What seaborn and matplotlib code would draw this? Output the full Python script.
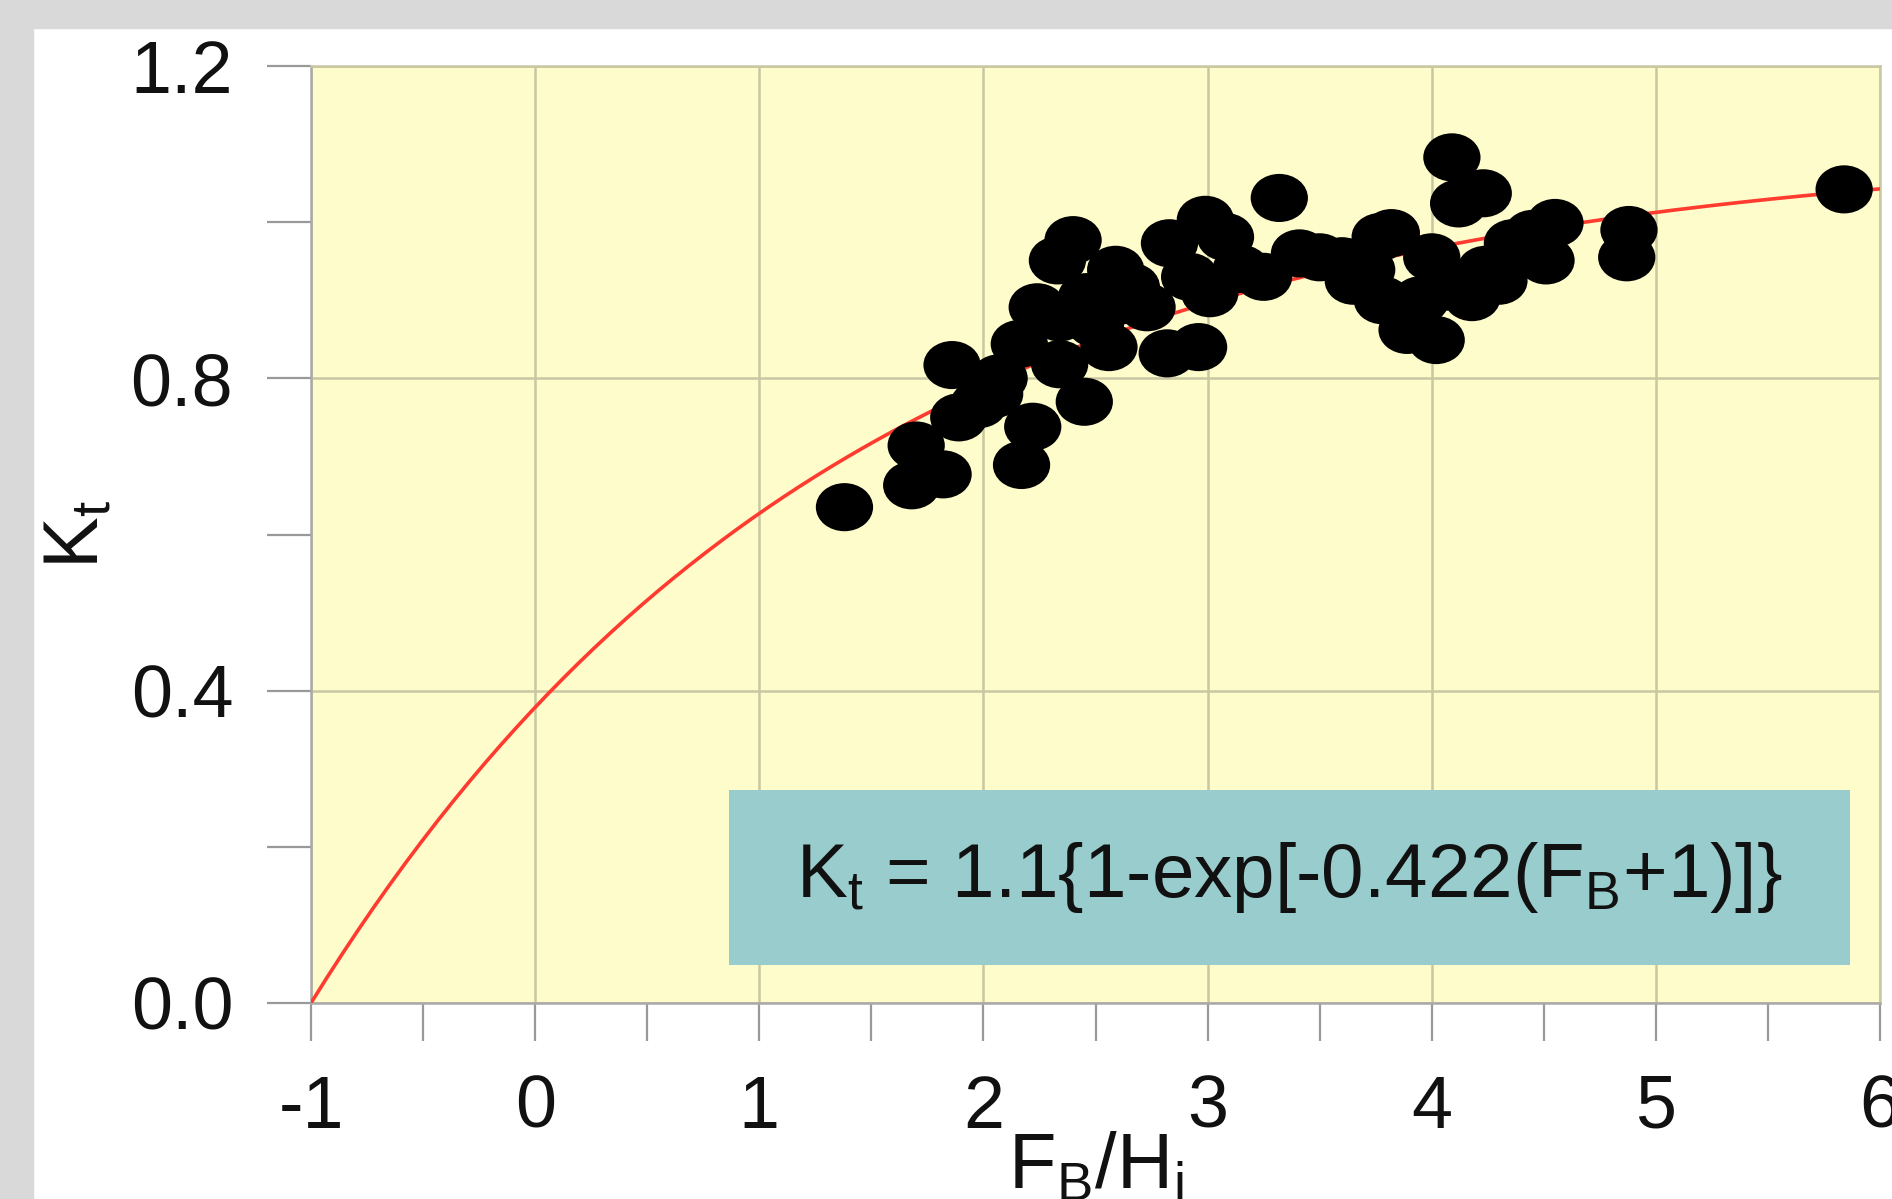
import numpy as np
import pandas as pd
import matplotlib
matplotlib.use("Agg")
import matplotlib.pyplot as plt
import seaborn as sns
from matplotlib.path import Path
from matplotlib.transforms import Affine2D
from matplotlib.patches import Rectangle
from matplotlib.ticker import MultipleLocator, FixedLocator

# measured points (F_B/H_i, K_t)
fb_hi = [1.38, 1.68, 1.82, 1.70, 1.86, 1.89, 1.98, 2.07, 2.17, 2.22,
         2.16, 2.24, 2.34, 2.34, 2.45, 2.46, 2.33, 2.40, 2.56, 2.59,
         2.66, 2.73, 2.82, 2.96, 2.83, 2.99, 3.01, 3.08, 3.15, 3.25,
         3.32, 3.41, 3.50, 3.60, 3.71, 3.77, 3.82, 3.78, 3.89, 4.00,
         4.02, 4.05, 4.09, 4.12, 4.18, 4.23, 4.24, 4.36, 4.51, 4.55,
         4.87, 4.88, 5.84, 3.95, 4.30, 3.65, 2.92, 2.62, 4.45, 2.50,
         2.05]
kt = [0.635, 0.663, 0.677, 0.714, 0.817, 0.750, 0.767, 0.800, 0.689, 0.738,
      0.844, 0.891, 0.818, 0.878, 0.770, 0.904, 0.951, 0.977, 0.840, 0.939,
      0.917, 0.891, 0.832, 0.840, 0.973, 1.003, 0.909, 0.981, 0.940, 0.930,
      1.031, 0.960, 0.955, 0.950, 0.939, 0.981, 0.986, 0.900, 0.862, 0.955,
      0.849, 0.917, 1.083, 1.024, 0.904, 1.037, 0.939, 0.973, 0.951, 0.999,
      0.955, 0.990, 1.042, 0.900, 0.925, 0.925, 0.930, 0.900, 0.985, 0.870,
      0.780]

# fitted curve  K_t = a{1-exp[-b(F_B+1)]}
fit_a = 1.1
fit_b = 0.422
fit_x = np.linspace(-1, 6, 200)

x_ticks = [-1, 0, 1, 2, 3, 4, 5, 6]
y_ticks = [0.0, 0.4, 0.8, 1.2]
y_minor = [0.2, 0.6, 1.0]

df = pd.DataFrame({"FB": fb_hi, "Kt": kt})
fit_df = pd.DataFrame({"FB": fit_x, "Kt": fit_a * (1 - np.exp(-fit_b * (fit_x + 1)))})

sns.set_theme(style="white")
plt.rcParams["font.family"] = ["Liberation Sans", "DejaVu Sans"]
plt.rcParams["mathtext.fontset"] = "custom"
plt.rcParams["mathtext.rm"] = "Liberation Sans"
plt.rcParams["mathtext.it"] = "Liberation Sans"

fig = plt.figure(figsize=(18.92, 11.99), dpi=100)
fig.patch.set_facecolor("white")
# grey screenshot frame
fig.patches.append(Rectangle((0, 0), 33 / 1892, 1, transform=fig.transFigure,
                             color="#d9d9d9", zorder=0))
fig.patches.append(Rectangle((0, 1 - 28 / 1199), 1, 28 / 1199, transform=fig.transFigure,
                             color="#d9d9d9", zorder=0))

ax = fig.add_axes([311 / 1892, 1 - 1003 / 1199, 1569 / 1892, 937 / 1199])
ax.set_facecolor("#fffccb")

ell = Affine2D().scale(1.0, 0.84).transform_path(Path.unit_circle())
sns.lineplot(data=fit_df, x="FB", y="Kt", ax=ax, color="#ff3b30", linewidth=2.6, zorder=3)
sns.scatterplot(data=df, x="FB", y="Kt", ax=ax, marker=ell, s=1700,
                color="black", edgecolor="none", linewidth=0, zorder=4)

ax.set_xlim(-1, 6)
ax.set_ylim(0, 1.2)
ax.xaxis.set_major_locator(FixedLocator(x_ticks))
ax.xaxis.set_minor_locator(MultipleLocator(0.5))
ax.yaxis.set_major_locator(FixedLocator(y_ticks))
ax.yaxis.set_minor_locator(FixedLocator(y_minor))
ax.set_xticklabels([str(v) for v in x_ticks])
ax.set_yticklabels([f"{v:.1f}" for v in y_ticks])

ax.grid(True, which="major", color="#c9c7a2", linewidth=1.8)
ax.set_axisbelow(True)
for s in ax.spines.values():
    s.set_color("#c9c7a2")
    s.set_linewidth(1.8)
ax.spines["left"].set_color("#a9a9a9")
ax.spines["bottom"].set_color("#a9a9a9")

ax.tick_params(axis="both", which="both", direction="out", color="#999999",
               width=1.6, labelsize=53, labelcolor="#111111")
ax.tick_params(axis="x", which="both", length=27, pad=24, bottom=True)
ax.tick_params(axis="y", which="both", length=32, pad=24, left=True)

ax.set_xlabel(r"$\mathrm{F_B/H_i}$", fontsize=56, labelpad=-8, color="#111111")
ax.set_ylabel(r"$\mathrm{K_t}$", fontsize=56, labelpad=12, color="#111111")

ax.add_patch(Rectangle((0.2664, 0.0406), 0.7145, 0.1868, transform=ax.transAxes,
                       facecolor="#99cccc", edgecolor="none", zorder=5))
ax.text(0.6237, 0.134, r"$\mathrm{K_t}$ = 1.1{1-exp[-0.422($\mathrm{F_B}$+1)]}",
        transform=ax.transAxes, ha="center", va="center", fontsize=55,
        color="#111111", zorder=6)

fig.savefig("out.png", dpi=100)
